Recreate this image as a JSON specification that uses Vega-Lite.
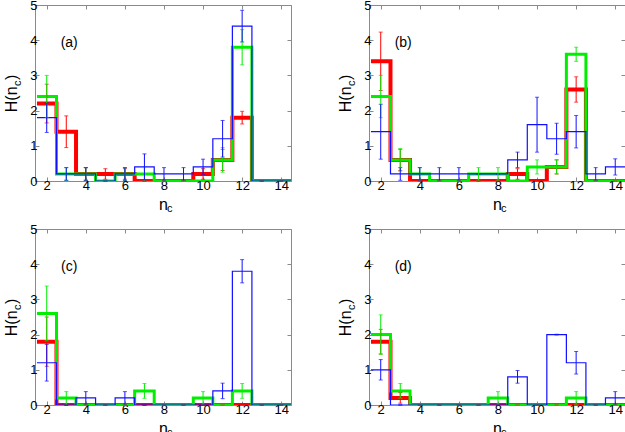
{
"$schema": "https://vega.github.io/schema/vega-lite/v6.json",
"autosize": {"type": "pad"},
"padding": {"left": 3, "top": -2, "right": 0, "bottom": 0},
"data": {"values": [
{"p":"a","lab":"(a)"},{"p":"b","lab":"(b)"},{"p":"c","lab":"(c)"},{"p":"d","lab":"(d)"},
{"p":"a","s":"r","n":2,"v":2.2,"e":0.55},{"p":"a","s":"r","n":3,"v":1.4,"e":0.45},{"p":"a","s":"r","n":4,"v":0.2,"e":0.18},{"p":"a","s":"r","n":5,"v":0.2,"e":0.15},{"p":"a","s":"r","n":6,"v":0.2,"e":0.15},{"p":"a","s":"r","n":7,"v":0,"e":0},{"p":"a","s":"r","n":8,"v":0,"e":0},{"p":"a","s":"r","n":9,"v":0,"e":0},{"p":"a","s":"r","n":10,"v":0.2,"e":0.15},{"p":"a","s":"r","n":11,"v":0.6,"e":0.3},{"p":"a","s":"r","n":12,"v":1.8,"e":0.18},{"p":"a","s":"r","n":13,"v":0,"e":0},{"p":"a","s":"r","n":14,"v":0,"e":0},
{"p":"a","s":"g","n":2,"v":2.4,"e":0.6},{"p":"a","s":"g","n":3,"v":0.2,"e":0.18},{"p":"a","s":"g","n":4,"v":0.2,"e":0.18},{"p":"a","s":"g","n":5,"v":0,"e":0},{"p":"a","s":"g","n":6,"v":0.2,"e":0.18},{"p":"a","s":"g","n":7,"v":0.2,"e":0.18},{"p":"a","s":"g","n":8,"v":0,"e":0},{"p":"a","s":"g","n":9,"v":0,"e":0},{"p":"a","s":"g","n":10,"v":0,"e":0},{"p":"a","s":"g","n":11,"v":0.6,"e":0.35},{"p":"a","s":"g","n":12,"v":3.8,"e":0.5},{"p":"a","s":"g","n":13,"v":0,"e":0},{"p":"a","s":"g","n":14,"v":0,"e":0},
{"p":"a","s":"b","n":2,"v":1.8,"e":0.42},{"p":"a","s":"b","n":3,"v":0.2,"e":0.18},{"p":"a","s":"b","n":4,"v":0.2,"e":0.18},{"p":"a","s":"b","n":5,"v":0,"e":0},{"p":"a","s":"b","n":6,"v":0.2,"e":0.18},{"p":"a","s":"b","n":7,"v":0.4,"e":0.37},{"p":"a","s":"b","n":8,"v":0.2,"e":0.18},{"p":"a","s":"b","n":9,"v":0.2,"e":0.18},{"p":"a","s":"b","n":10,"v":0.4,"e":0.22},{"p":"a","s":"b","n":11,"v":1.2,"e":0.52},{"p":"a","s":"b","n":12,"v":4.4,"e":0.45},{"p":"a","s":"b","n":13,"v":0,"e":0},{"p":"a","s":"b","n":14,"v":0,"e":0},
{"p":"b","s":"r","n":2,"v":3.4,"e":0.83},{"p":"b","s":"r","n":3,"v":0.6,"e":0.3},{"p":"b","s":"r","n":4,"v":0,"e":0},{"p":"b","s":"r","n":5,"v":0,"e":0},{"p":"b","s":"r","n":6,"v":0,"e":0},{"p":"b","s":"r","n":7,"v":0,"e":0},{"p":"b","s":"r","n":8,"v":0,"e":0},{"p":"b","s":"r","n":9,"v":0.2,"e":0.15},{"p":"b","s":"r","n":10,"v":0,"e":0},{"p":"b","s":"r","n":11,"v":0.4,"e":0.2},{"p":"b","s":"r","n":12,"v":2.6,"e":0.36},{"p":"b","s":"r","n":13,"v":0,"e":0},{"p":"b","s":"r","n":14,"v":0,"e":0},
{"p":"b","s":"g","n":2,"v":2.4,"e":0.6},{"p":"b","s":"g","n":3,"v":0.6,"e":0.32},{"p":"b","s":"g","n":4,"v":0.2,"e":0.18},{"p":"b","s":"g","n":5,"v":0,"e":0},{"p":"b","s":"g","n":6,"v":0,"e":0},{"p":"b","s":"g","n":7,"v":0.2,"e":0.18},{"p":"b","s":"g","n":8,"v":0.2,"e":0.18},{"p":"b","s":"g","n":9,"v":0,"e":0},{"p":"b","s":"g","n":10,"v":0.4,"e":0.2},{"p":"b","s":"g","n":11,"v":0.4,"e":0.2},{"p":"b","s":"g","n":12,"v":3.6,"e":0.2},{"p":"b","s":"g","n":13,"v":0,"e":0},{"p":"b","s":"g","n":14,"v":0,"e":0},
{"p":"b","s":"b","n":2,"v":1.4,"e":0.78},{"p":"b","s":"b","n":3,"v":0.2,"e":0.18},{"p":"b","s":"b","n":4,"v":0.2,"e":0.18},{"p":"b","s":"b","n":5,"v":0.2,"e":0.18},{"p":"b","s":"b","n":6,"v":0.2,"e":0.18},{"p":"b","s":"b","n":7,"v":0.2,"e":0},{"p":"b","s":"b","n":8,"v":0.2,"e":0},{"p":"b","s":"b","n":9,"v":0.6,"e":0.22},{"p":"b","s":"b","n":10,"v":1.6,"e":0.78},{"p":"b","s":"b","n":11,"v":1.2,"e":0.44},{"p":"b","s":"b","n":12,"v":1.4,"e":0.46},{"p":"b","s":"b","n":13,"v":0.2,"e":0.18},{"p":"b","s":"b","n":14,"v":0.4,"e":0.23},
{"p":"c","s":"r","n":2,"v":1.8,"e":0.7},{"p":"c","s":"r","n":3,"v":0,"e":0},{"p":"c","s":"r","n":4,"v":0,"e":0},{"p":"c","s":"r","n":5,"v":0,"e":0},{"p":"c","s":"r","n":6,"v":0,"e":0},{"p":"c","s":"r","n":7,"v":0,"e":0},{"p":"c","s":"r","n":8,"v":0,"e":0},{"p":"c","s":"r","n":9,"v":0,"e":0},{"p":"c","s":"r","n":10,"v":0,"e":0},{"p":"c","s":"r","n":11,"v":0,"e":0},{"p":"c","s":"r","n":12,"v":0,"e":0},{"p":"c","s":"r","n":13,"v":0,"e":0},{"p":"c","s":"r","n":14,"v":0,"e":0},
{"p":"c","s":"g","n":2,"v":2.6,"e":0.78},{"p":"c","s":"g","n":3,"v":0.2,"e":0.18},{"p":"c","s":"g","n":4,"v":0,"e":0},{"p":"c","s":"g","n":5,"v":0,"e":0},{"p":"c","s":"g","n":6,"v":0,"e":0},{"p":"c","s":"g","n":7,"v":0.4,"e":0.21},{"p":"c","s":"g","n":8,"v":0,"e":0},{"p":"c","s":"g","n":9,"v":0,"e":0},{"p":"c","s":"g","n":10,"v":0.2,"e":0.18},{"p":"c","s":"g","n":11,"v":0,"e":0},{"p":"c","s":"g","n":12,"v":0.4,"e":0.21},{"p":"c","s":"g","n":13,"v":0,"e":0},{"p":"c","s":"g","n":14,"v":0,"e":0},
{"p":"c","s":"b","n":2,"v":1.2,"e":0.52},{"p":"c","s":"b","n":3,"v":0,"e":0},{"p":"c","s":"b","n":4,"v":0.2,"e":0.18},{"p":"c","s":"b","n":5,"v":0,"e":0},{"p":"c","s":"b","n":6,"v":0.2,"e":0.18},{"p":"c","s":"b","n":7,"v":0,"e":0},{"p":"c","s":"b","n":8,"v":0,"e":0},{"p":"c","s":"b","n":9,"v":0,"e":0},{"p":"c","s":"b","n":10,"v":0,"e":0},{"p":"c","s":"b","n":11,"v":0.4,"e":0.22},{"p":"c","s":"b","n":12,"v":3.8,"e":0.33},{"p":"c","s":"b","n":13,"v":0,"e":0},{"p":"c","s":"b","n":14,"v":0,"e":0},
{"p":"d","s":"r","n":2,"v":1.8,"e":0.35},{"p":"d","s":"r","n":3,"v":0.2,"e":0.15},{"p":"d","s":"r","n":4,"v":0,"e":0},{"p":"d","s":"r","n":5,"v":0,"e":0},{"p":"d","s":"r","n":6,"v":0,"e":0},{"p":"d","s":"r","n":7,"v":0,"e":0},{"p":"d","s":"r","n":8,"v":0,"e":0},{"p":"d","s":"r","n":9,"v":0,"e":0},{"p":"d","s":"r","n":10,"v":0,"e":0},{"p":"d","s":"r","n":11,"v":0,"e":0},{"p":"d","s":"r","n":12,"v":0,"e":0},{"p":"d","s":"r","n":13,"v":0,"e":0},{"p":"d","s":"r","n":14,"v":0,"e":0},
{"p":"d","s":"g","n":2,"v":2.0,"e":0.56},{"p":"d","s":"g","n":3,"v":0.4,"e":0.21},{"p":"d","s":"g","n":4,"v":0,"e":0},{"p":"d","s":"g","n":5,"v":0,"e":0},{"p":"d","s":"g","n":6,"v":0,"e":0},{"p":"d","s":"g","n":7,"v":0,"e":0},{"p":"d","s":"g","n":8,"v":0.2,"e":0.18},{"p":"d","s":"g","n":9,"v":0,"e":0},{"p":"d","s":"g","n":10,"v":0,"e":0},{"p":"d","s":"g","n":11,"v":0,"e":0},{"p":"d","s":"g","n":12,"v":0.2,"e":0.18},{"p":"d","s":"g","n":13,"v":0,"e":0},{"p":"d","s":"g","n":14,"v":0,"e":0},
{"p":"d","s":"b","n":2,"v":1.0,"e":0.29},{"p":"d","s":"b","n":3,"v":0,"e":0},{"p":"d","s":"b","n":4,"v":0,"e":0},{"p":"d","s":"b","n":5,"v":0,"e":0},{"p":"d","s":"b","n":6,"v":0,"e":0},{"p":"d","s":"b","n":7,"v":0,"e":0},{"p":"d","s":"b","n":8,"v":0,"e":0},{"p":"d","s":"b","n":9,"v":0.8,"e":0.18},{"p":"d","s":"b","n":10,"v":0,"e":0},{"p":"d","s":"b","n":11,"v":2.0,"e":0.01},{"p":"d","s":"b","n":12,"v":1.2,"e":0.32},{"p":"d","s":"b","n":13,"v":0,"e":0},{"p":"d","s":"b","n":14,"v":0.2,"e":0.18}
]},
"columns": 2,
"spacing": {"row": 48, "column": 78},
"bounds": "flush",
"concat": [
{"transform": [{"filter": "datum.p === 'a'"}], "width": 256, "height": 176, "resolve": {"axis": {"x": "independent", "y": "independent"}}, "layer": [
 {"transform": [{"filter": "datum.s === 'r'"}, {"bin": {"step": 1, "extent": [1.5, 14.5], "anchor": 1.5, "nice": false}, "field": "n", "as": ["lo", "hi"]}, {"fold": ["lo", "hi"], "as": ["k", "x"]}], "mark": {"type": "line", "color": "#ff0000", "strokeWidth": 4, "clip": true, "strokeJoin": "miter"}, "encoding": {"x": {"field": "x", "type": "quantitative", "title": "n", "scale": {"domain": [1.4, 14.5], "nice": false, "zero": false}, "axis": {"values": [2, 4, 6, 8, 10, 12, 14], "tickCount": 20, "format": "d"}}, "y": {"field": "v", "type": "quantitative", "title": "H(n\u2009\u2009)", "scale": {"domain": [0, 5], "nice": false}, "axis": {"values": [0, 1, 2, 3, 4, 5], "tickCount": 20, "format": "d"}}, "order": [{"field": "x", "type": "quantitative"}, {"field": "n", "type": "quantitative"}]}},
 {"transform": [{"filter": "datum.s === 'g'"}, {"bin": {"step": 1, "extent": [1.5, 14.5], "anchor": 1.5, "nice": false}, "field": "n", "as": ["lo", "hi"]}, {"fold": ["lo", "hi"], "as": ["k", "x"]}], "mark": {"type": "line", "color": "#00ee00", "strokeWidth": 3, "clip": true, "strokeJoin": "miter"}, "encoding": {"x": {"field": "x", "type": "quantitative", "title": null, "axis": {"orient": "top", "values": [2, 4, 6, 8, 10, 12, 14], "tickCount": 20, "labels": false}}, "y": {"field": "v", "type": "quantitative", "title": null, "axis": {"orient": "right", "values": [0, 1, 2, 3, 4, 5], "tickCount": 20, "labels": false}}, "order": [{"field": "x", "type": "quantitative"}, {"field": "n", "type": "quantitative"}]}},
 {"transform": [{"filter": "datum.s === 'b'"}, {"bin": {"step": 1, "extent": [1.5, 14.5], "anchor": 1.5, "nice": false}, "field": "n", "as": ["lo", "hi"]}, {"fold": ["lo", "hi"], "as": ["k", "x"]}], "mark": {"type": "line", "color": "#1010ff", "strokeWidth": 1.2, "clip": true, "strokeJoin": "miter"}, "encoding": {"x": {"field": "x", "type": "quantitative", "axis": null}, "y": {"field": "v", "type": "quantitative", "axis": null}, "order": [{"field": "x", "type": "quantitative"}, {"field": "n", "type": "quantitative"}]}},
 {"transform": [{"filter": "datum.s"}], "mark": {"type": "errorbar", "thickness": 1, "ticks": {"size": 4}}, "encoding": {"x": {"field": "n", "type": "quantitative", "axis": null}, "y": {"field": "v", "type": "quantitative", "axis": null}, "yError": {"field": "e"}, "color": {"field": "s", "type": "nominal", "scale": {"domain": ["r", "g", "b"], "range": ["#ff0000", "#00ee00", "#1010ff"]}, "legend": null}}},
 {"transform": [{"filter": "datum.lab"}], "mark": {"type": "text", "fontSize": 14, "color": "#000000"}, "encoding": {"x": {"datum": 3.15, "type": "quantitative", "axis": null}, "y": {"datum": 3.93, "type": "quantitative", "axis": null}, "text": {"field": "lab"}}},
 {"transform": [{"filter": "datum.lab"}], "mark": {"type": "text", "text": "c", "fontSize": 11, "color": "#000000"}, "encoding": {"x": {"datum": 8.3, "type": "quantitative", "axis": null}, "y": {"datum": -0.8, "type": "quantitative", "axis": null}}},
 {"transform": [{"filter": "datum.lab"}], "mark": {"type": "text", "text": "c", "fontSize": 11, "angle": 270, "color": "#000000"}, "encoding": {"x": {"datum": 0.55, "type": "quantitative", "axis": null}, "y": {"datum": 2.78, "type": "quantitative", "axis": null}}}
]},
{"transform": [{"filter": "datum.p === 'b'"}], "width": 256, "height": 176, "resolve": {"axis": {"x": "independent", "y": "independent"}}, "layer": [
 {"transform": [{"filter": "datum.s === 'r'"}, {"bin": {"step": 1, "extent": [1.5, 14.5], "anchor": 1.5, "nice": false}, "field": "n", "as": ["lo", "hi"]}, {"fold": ["lo", "hi"], "as": ["k", "x"]}], "mark": {"type": "line", "color": "#ff0000", "strokeWidth": 4, "clip": true, "strokeJoin": "miter"}, "encoding": {"x": {"field": "x", "type": "quantitative", "title": "n", "scale": {"domain": [1.4, 14.5], "nice": false, "zero": false}, "axis": {"values": [2, 4, 6, 8, 10, 12, 14], "tickCount": 20, "format": "d"}}, "y": {"field": "v", "type": "quantitative", "title": "H(n\u2009\u2009)", "scale": {"domain": [0, 5], "nice": false}, "axis": {"values": [0, 1, 2, 3, 4, 5], "tickCount": 20, "format": "d"}}, "order": [{"field": "x", "type": "quantitative"}, {"field": "n", "type": "quantitative"}]}},
 {"transform": [{"filter": "datum.s === 'g'"}, {"bin": {"step": 1, "extent": [1.5, 14.5], "anchor": 1.5, "nice": false}, "field": "n", "as": ["lo", "hi"]}, {"fold": ["lo", "hi"], "as": ["k", "x"]}], "mark": {"type": "line", "color": "#00ee00", "strokeWidth": 3, "clip": true, "strokeJoin": "miter"}, "encoding": {"x": {"field": "x", "type": "quantitative", "title": null, "axis": {"orient": "top", "values": [2, 4, 6, 8, 10, 12, 14], "tickCount": 20, "labels": false}}, "y": {"field": "v", "type": "quantitative", "title": null, "axis": {"orient": "right", "values": [0, 1, 2, 3, 4, 5], "tickCount": 20, "labels": false}}, "order": [{"field": "x", "type": "quantitative"}, {"field": "n", "type": "quantitative"}]}},
 {"transform": [{"filter": "datum.s === 'b'"}, {"bin": {"step": 1, "extent": [1.5, 14.5], "anchor": 1.5, "nice": false}, "field": "n", "as": ["lo", "hi"]}, {"fold": ["lo", "hi"], "as": ["k", "x"]}], "mark": {"type": "line", "color": "#1010ff", "strokeWidth": 1.2, "clip": true, "strokeJoin": "miter"}, "encoding": {"x": {"field": "x", "type": "quantitative", "axis": null}, "y": {"field": "v", "type": "quantitative", "axis": null}, "order": [{"field": "x", "type": "quantitative"}, {"field": "n", "type": "quantitative"}]}},
 {"transform": [{"filter": "datum.s"}], "mark": {"type": "errorbar", "thickness": 1, "ticks": {"size": 4}}, "encoding": {"x": {"field": "n", "type": "quantitative", "axis": null}, "y": {"field": "v", "type": "quantitative", "axis": null}, "yError": {"field": "e"}, "color": {"field": "s", "type": "nominal", "scale": {"domain": ["r", "g", "b"], "range": ["#ff0000", "#00ee00", "#1010ff"]}, "legend": null}}},
 {"transform": [{"filter": "datum.lab"}], "mark": {"type": "text", "fontSize": 14, "color": "#000000"}, "encoding": {"x": {"datum": 3.15, "type": "quantitative", "axis": null}, "y": {"datum": 3.93, "type": "quantitative", "axis": null}, "text": {"field": "lab"}}},
 {"transform": [{"filter": "datum.lab"}], "mark": {"type": "text", "text": "c", "fontSize": 11, "color": "#000000"}, "encoding": {"x": {"datum": 8.3, "type": "quantitative", "axis": null}, "y": {"datum": -0.8, "type": "quantitative", "axis": null}}},
 {"transform": [{"filter": "datum.lab"}], "mark": {"type": "text", "text": "c", "fontSize": 11, "angle": 270, "color": "#000000"}, "encoding": {"x": {"datum": 0.55, "type": "quantitative", "axis": null}, "y": {"datum": 2.78, "type": "quantitative", "axis": null}}}
]},
{"transform": [{"filter": "datum.p === 'c'"}], "width": 256, "height": 176, "resolve": {"axis": {"x": "independent", "y": "independent"}}, "layer": [
 {"transform": [{"filter": "datum.s === 'r'"}, {"bin": {"step": 1, "extent": [1.5, 14.5], "anchor": 1.5, "nice": false}, "field": "n", "as": ["lo", "hi"]}, {"fold": ["lo", "hi"], "as": ["k", "x"]}], "mark": {"type": "line", "color": "#ff0000", "strokeWidth": 4, "clip": true, "strokeJoin": "miter"}, "encoding": {"x": {"field": "x", "type": "quantitative", "title": "n", "scale": {"domain": [1.4, 14.5], "nice": false, "zero": false}, "axis": {"values": [2, 4, 6, 8, 10, 12, 14], "tickCount": 20, "format": "d"}}, "y": {"field": "v", "type": "quantitative", "title": "H(n\u2009\u2009)", "scale": {"domain": [0, 5], "nice": false}, "axis": {"values": [0, 1, 2, 3, 4, 5], "tickCount": 20, "format": "d"}}, "order": [{"field": "x", "type": "quantitative"}, {"field": "n", "type": "quantitative"}]}},
 {"transform": [{"filter": "datum.s === 'g'"}, {"bin": {"step": 1, "extent": [1.5, 14.5], "anchor": 1.5, "nice": false}, "field": "n", "as": ["lo", "hi"]}, {"fold": ["lo", "hi"], "as": ["k", "x"]}], "mark": {"type": "line", "color": "#00ee00", "strokeWidth": 3, "clip": true, "strokeJoin": "miter"}, "encoding": {"x": {"field": "x", "type": "quantitative", "title": null, "axis": {"orient": "top", "values": [2, 4, 6, 8, 10, 12, 14], "tickCount": 20, "labels": false}}, "y": {"field": "v", "type": "quantitative", "title": null, "axis": {"orient": "right", "values": [0, 1, 2, 3, 4, 5], "tickCount": 20, "labels": false}}, "order": [{"field": "x", "type": "quantitative"}, {"field": "n", "type": "quantitative"}]}},
 {"transform": [{"filter": "datum.s === 'b'"}, {"bin": {"step": 1, "extent": [1.5, 14.5], "anchor": 1.5, "nice": false}, "field": "n", "as": ["lo", "hi"]}, {"fold": ["lo", "hi"], "as": ["k", "x"]}], "mark": {"type": "line", "color": "#1010ff", "strokeWidth": 1.2, "clip": true, "strokeJoin": "miter"}, "encoding": {"x": {"field": "x", "type": "quantitative", "axis": null}, "y": {"field": "v", "type": "quantitative", "axis": null}, "order": [{"field": "x", "type": "quantitative"}, {"field": "n", "type": "quantitative"}]}},
 {"transform": [{"filter": "datum.s"}], "mark": {"type": "errorbar", "thickness": 1, "ticks": {"size": 4}}, "encoding": {"x": {"field": "n", "type": "quantitative", "axis": null}, "y": {"field": "v", "type": "quantitative", "axis": null}, "yError": {"field": "e"}, "color": {"field": "s", "type": "nominal", "scale": {"domain": ["r", "g", "b"], "range": ["#ff0000", "#00ee00", "#1010ff"]}, "legend": null}}},
 {"transform": [{"filter": "datum.lab"}], "mark": {"type": "text", "fontSize": 14, "color": "#000000"}, "encoding": {"x": {"datum": 3.15, "type": "quantitative", "axis": null}, "y": {"datum": 3.93, "type": "quantitative", "axis": null}, "text": {"field": "lab"}}},
 {"transform": [{"filter": "datum.lab"}], "mark": {"type": "text", "text": "c", "fontSize": 11, "color": "#000000"}, "encoding": {"x": {"datum": 8.3, "type": "quantitative", "axis": null}, "y": {"datum": -0.8, "type": "quantitative", "axis": null}}},
 {"transform": [{"filter": "datum.lab"}], "mark": {"type": "text", "text": "c", "fontSize": 11, "angle": 270, "color": "#000000"}, "encoding": {"x": {"datum": 0.55, "type": "quantitative", "axis": null}, "y": {"datum": 2.78, "type": "quantitative", "axis": null}}}
]},
{"transform": [{"filter": "datum.p === 'd'"}], "width": 256, "height": 176, "resolve": {"axis": {"x": "independent", "y": "independent"}}, "layer": [
 {"transform": [{"filter": "datum.s === 'r'"}, {"bin": {"step": 1, "extent": [1.5, 14.5], "anchor": 1.5, "nice": false}, "field": "n", "as": ["lo", "hi"]}, {"fold": ["lo", "hi"], "as": ["k", "x"]}], "mark": {"type": "line", "color": "#ff0000", "strokeWidth": 4, "clip": true, "strokeJoin": "miter"}, "encoding": {"x": {"field": "x", "type": "quantitative", "title": "n", "scale": {"domain": [1.4, 14.5], "nice": false, "zero": false}, "axis": {"values": [2, 4, 6, 8, 10, 12, 14], "tickCount": 20, "format": "d"}}, "y": {"field": "v", "type": "quantitative", "title": "H(n\u2009\u2009)", "scale": {"domain": [0, 5], "nice": false}, "axis": {"values": [0, 1, 2, 3, 4, 5], "tickCount": 20, "format": "d"}}, "order": [{"field": "x", "type": "quantitative"}, {"field": "n", "type": "quantitative"}]}},
 {"transform": [{"filter": "datum.s === 'g'"}, {"bin": {"step": 1, "extent": [1.5, 14.5], "anchor": 1.5, "nice": false}, "field": "n", "as": ["lo", "hi"]}, {"fold": ["lo", "hi"], "as": ["k", "x"]}], "mark": {"type": "line", "color": "#00ee00", "strokeWidth": 3, "clip": true, "strokeJoin": "miter"}, "encoding": {"x": {"field": "x", "type": "quantitative", "title": null, "axis": {"orient": "top", "values": [2, 4, 6, 8, 10, 12, 14], "tickCount": 20, "labels": false}}, "y": {"field": "v", "type": "quantitative", "title": null, "axis": {"orient": "right", "values": [0, 1, 2, 3, 4, 5], "tickCount": 20, "labels": false}}, "order": [{"field": "x", "type": "quantitative"}, {"field": "n", "type": "quantitative"}]}},
 {"transform": [{"filter": "datum.s === 'b'"}, {"bin": {"step": 1, "extent": [1.5, 14.5], "anchor": 1.5, "nice": false}, "field": "n", "as": ["lo", "hi"]}, {"fold": ["lo", "hi"], "as": ["k", "x"]}], "mark": {"type": "line", "color": "#1010ff", "strokeWidth": 1.2, "clip": true, "strokeJoin": "miter"}, "encoding": {"x": {"field": "x", "type": "quantitative", "axis": null}, "y": {"field": "v", "type": "quantitative", "axis": null}, "order": [{"field": "x", "type": "quantitative"}, {"field": "n", "type": "quantitative"}]}},
 {"transform": [{"filter": "datum.s"}], "mark": {"type": "errorbar", "thickness": 1, "ticks": {"size": 4}}, "encoding": {"x": {"field": "n", "type": "quantitative", "axis": null}, "y": {"field": "v", "type": "quantitative", "axis": null}, "yError": {"field": "e"}, "color": {"field": "s", "type": "nominal", "scale": {"domain": ["r", "g", "b"], "range": ["#ff0000", "#00ee00", "#1010ff"]}, "legend": null}}},
 {"transform": [{"filter": "datum.lab"}], "mark": {"type": "text", "fontSize": 14, "color": "#000000"}, "encoding": {"x": {"datum": 3.15, "type": "quantitative", "axis": null}, "y": {"datum": 3.93, "type": "quantitative", "axis": null}, "text": {"field": "lab"}}},
 {"transform": [{"filter": "datum.lab"}], "mark": {"type": "text", "text": "c", "fontSize": 11, "color": "#000000"}, "encoding": {"x": {"datum": 8.3, "type": "quantitative", "axis": null}, "y": {"datum": -0.8, "type": "quantitative", "axis": null}}},
 {"transform": [{"filter": "datum.lab"}], "mark": {"type": "text", "text": "c", "fontSize": 11, "angle": 270, "color": "#000000"}, "encoding": {"x": {"datum": 0.55, "type": "quantitative", "axis": null}, "y": {"datum": 2.78, "type": "quantitative", "axis": null}}}
]}
],
"config": {
  "font": "Liberation Sans",
  "view": {"stroke": "#8a8a8a", "strokeWidth": 1},
  "axis": {"domain": false, "grid": false, "tickColor": "#8a8a8a", "tickSize": -4, "labelOverlap": false, "labelFont": "Liberation Sans", "labelFontSize": 13, "labelColor": "#000000", "labelPadding": 2, "titleFont": "Liberation Sans", "titleFontSize": 16, "titleColor": "#000000", "titleFontWeight": "normal", "titlePadding": 4},
  "axisY": {"titlePadding": 10, "labelOverlap": false},
  "text": {"font": "Liberation Sans"}
}
}
